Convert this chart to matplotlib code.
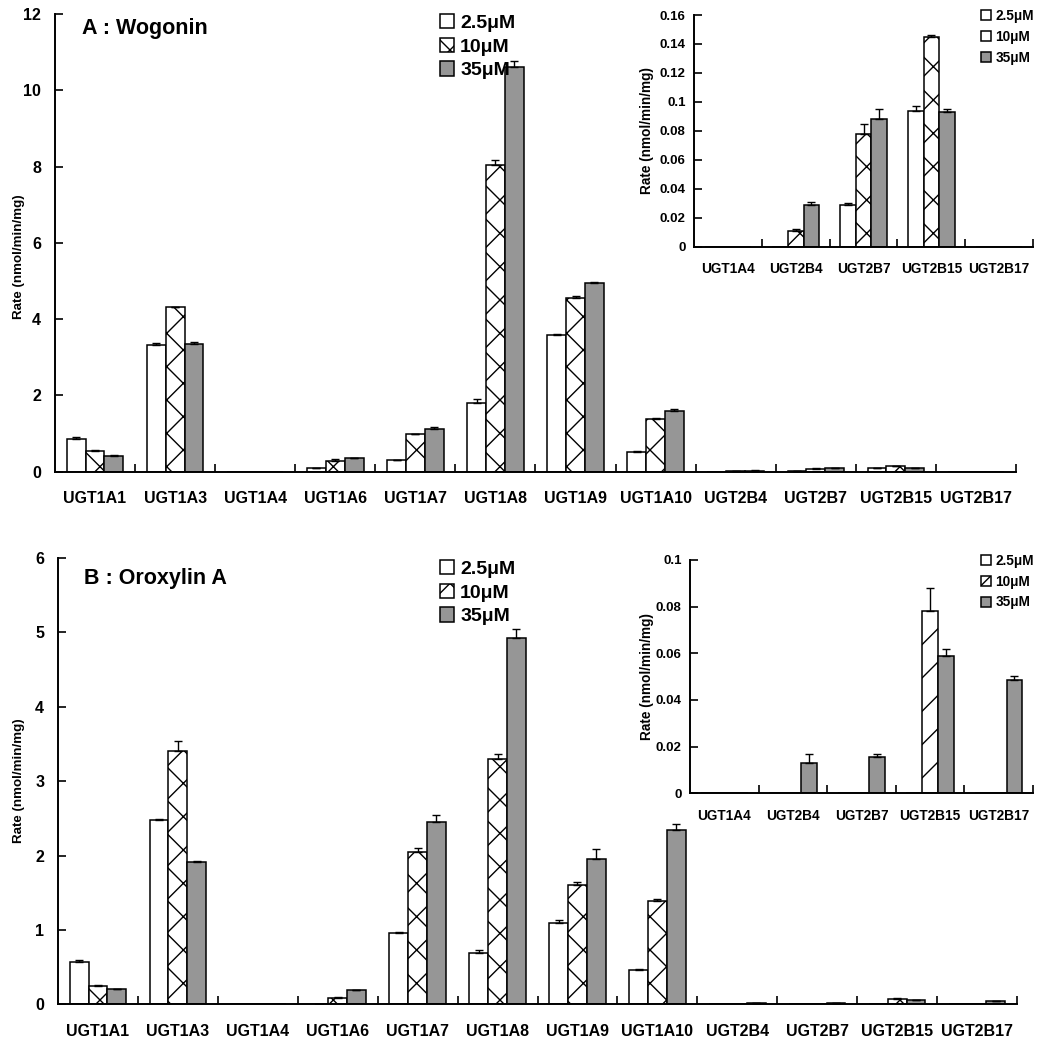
import numpy as np
import matplotlib.pyplot as plt
from matplotlib.ticker import FuncFormatter

plt.rcParams['font.family'] = ['Liberation Sans', 'DejaVu Sans']
plt.rcParams['font.weight'] = 'bold'
plt.rcParams['hatch.linewidth'] = 1.0

# UGT isoforms
categories = ['UGT1A1', 'UGT1A3', 'UGT1A4', 'UGT1A6', 'UGT1A7', 'UGT1A8',
              'UGT1A9', 'UGT1A10', 'UGT2B4', 'UGT2B7', 'UGT2B15', 'UGT2B17']
inset_idx = [2, 8, 9, 10, 11]  # UGT1A4 and UGT2B forms shown in the insets
conc_labels = ['2.5μM', '10μM', '35μM']

# A: Wogonin glucuronidation rate (nmol/min/mg)
wog_25 = [0.85, 3.31, 0, 0.09, 0.30, 1.79, 3.58, 0.52, 0, 0.029, 0.094, 0]
wog_10 = [0.55, 4.31, 0, 0.29, 0.98, 8.05, 4.55, 1.37, 0.011, 0.078, 0.145, 0]
wog_35 = [0.41, 3.35, 0, 0.35, 1.13, 10.62, 4.95, 1.58, 0.029, 0.088, 0.093, 0]
wog_25_err = [0.06, 0.06, 0, 0.01, 0.01, 0.12, 0.04, 0.01, 0, 0.001, 0.003, 0]
wog_10_err = [0.03, 0.02, 0, 0.03, 0.02, 0.13, 0.06, 0.04, 0.001, 0.007, 0.001, 0]
wog_35_err = [0.02, 0.04, 0, 0.01, 0.05, 0.15, 0.02, 0.07, 0.002, 0.007, 0.002, 0]

# B: Oroxylin A
oro_25 = [0.565, 2.48, 0, 0.01, 0.955, 0.69, 1.09, 0.46, 0, 0, 0, 0]
oro_10 = [0.25, 3.41, 0, 0.09, 2.05, 3.30, 1.61, 1.39, 0, 0, 0.078, 0]
oro_35 = [0.20, 1.91, 0, 0.19, 2.45, 4.93, 1.96, 2.35, 0.013, 0.0155, 0.059, 0.0485]
oro_25_err = [0.035, 0.01, 0, 0, 0.015, 0.04, 0.05, 0.01, 0, 0, 0, 0]
oro_10_err = [0.01, 0.13, 0, 0.01, 0.05, 0.07, 0.03, 0.03, 0, 0, 0.010, 0]
oro_35_err = [0.01, 0.01, 0, 0.005, 0.09, 0.11, 0.13, 0.08, 0.004, 0.0015, 0.003, 0.0018]

GRAY = '#969696'


def draw_bars(ax, series, errs, idx, hatch10, width=0.235):
    labels = [categories[i] for i in idx]
    x = np.arange(len(idx)) + 0.5
    styles = [dict(color='white', hatch=None),
              dict(color='white', hatch=hatch10),
              dict(color=GRAY, hatch=None)]
    for k, (vals, err, st) in enumerate(zip(series, errs, styles)):
        v = np.array([vals[i] for i in idx])
        e = np.array([err[i] for i in idx])
        xs = x + (k - 1) * width
        ax.bar(xs, v, width, color=st['color'], hatch=st['hatch'],
               edgecolor='black', linewidth=1.1, label=conc_labels[k], zorder=2)
        m = v > 0
        ax.errorbar(xs[m], v[m], yerr=[np.zeros(m.sum()), e[m]], fmt='none',
                    ecolor='black', elinewidth=1.0, capsize=3, capthick=1.0, zorder=3)
    ax.set_xlim(0, len(idx))
    ax.set_xticks(x)
    ax.set_xticklabels(labels)
    ax.set_xticks(np.arange(1, len(idx) + 1), minor=True)
    ax.tick_params(axis='x', which='major', length=0)
    ax.tick_params(axis='x', which='minor', direction='in', length=6, width=1.2)
    ax.tick_params(axis='y', direction='in', length=6, width=1.2)
    for s in ['top', 'right']:
        ax.spines[s].set_visible(False)
    for s in ['left', 'bottom']:
        ax.spines[s].set_linewidth(1.4)
    ax.yaxis.set_major_formatter(FuncFormatter(lambda v, p: '%g' % v))


fig = plt.figure(figsize=(10.41, 10.50), dpi=100)

all_idx = list(range(len(categories)))

# ---- Panel A main
axA = fig.add_axes([0.0528, 0.5508, 0.9232, 0.4358])
draw_bars(axA, [wog_25, wog_10, wog_35], [wog_25_err, wog_10_err, wog_35_err], all_idx, 'x')
axA.set_ylim(0, 12)
axA.set_yticks(range(0, 13, 2))
axA.tick_params(axis='x', labelsize=11.5, pad=14)
axA.tick_params(axis='y', labelsize=11.5, pad=10)
axA.set_ylabel('Rate (nmol/min/mg)', fontsize=9.6, fontweight='bold')
axA.yaxis.set_label_coords(-0.031, 0.47)
axA.legend(loc='upper left', bbox_to_anchor=(0.413, 0.996), bbox_transform=fig.transFigure,
           frameon=False, fontsize=14, handlelength=0.75, handleheight=0.75,
           handletextpad=0.3, labelspacing=0.3, borderpad=0)
fig.text(0.079, 0.973, 'A : Wogonin', fontsize=15.5, fontweight='bold', va='center')

# ---- Panel A inset
axAi = fig.add_axes([0.6667, 0.765, 0.3256, 0.2207])
draw_bars(axAi, [wog_25, wog_10, wog_35], [wog_25_err, wog_10_err, wog_35_err], inset_idx, 'x', width=0.23)
axAi.set_ylim(0, 0.16)
axAi.set_yticks(np.arange(0, 0.161, 0.02))
axAi.tick_params(axis='x', labelsize=9.8, pad=11)
axAi.tick_params(axis='y', labelsize=9.5, pad=6)
axAi.set_ylabel('Rate (nmol/min/mg)', fontsize=9.8, fontweight='bold')
axAi.yaxis.set_label_coords(-0.118, 0.5)
axAi.legend(loc='upper left', bbox_to_anchor=(0.936, 0.998), bbox_transform=fig.transFigure,
            frameon=False, fontsize=9.8, handlelength=0.75, handleheight=0.75,
            handletextpad=0.3, labelspacing=0.5, borderpad=0)

# ---- Panel B main
axB = fig.add_axes([0.0557, 0.0435, 0.9213, 0.4251])
draw_bars(axB, [oro_25, oro_10, oro_35], [oro_25_err, oro_10_err, oro_35_err], all_idx, 'x')
axB.set_ylim(0, 6)
axB.set_yticks(range(0, 7))
axB.tick_params(axis='x', labelsize=11.5, pad=14)
axB.tick_params(axis='y', labelsize=11.5, pad=10)
axB.set_ylabel('Rate (nmol/min/mg)', fontsize=9.6, fontweight='bold')
axB.yaxis.set_label_coords(-0.034, 0.5)
axB.legend(loc='upper left', bbox_to_anchor=(0.413, 0.476), bbox_transform=fig.transFigure,
           frameon=False, fontsize=14, handlelength=0.75, handleheight=0.75,
           handletextpad=0.3, labelspacing=0.3, borderpad=0)
fig.text(0.081, 0.449, 'B : Oroxylin A', fontsize=15.5, fontweight='bold', va='center')

# ---- Panel B inset
axBi = fig.add_axes([0.6628, 0.2445, 0.3295, 0.2222])
draw_bars(axBi, [oro_25, oro_10, oro_35], [oro_25_err, oro_10_err, oro_35_err], inset_idx, '/', width=0.23)
axBi.set_ylim(0, 0.1)
axBi.set_yticks(np.arange(0, 0.101, 0.02))
axBi.tick_params(axis='x', labelsize=9.8, pad=11)
axBi.tick_params(axis='y', labelsize=9.5, pad=6)
axBi.set_ylabel('Rate (nmol/min/mg)', fontsize=9.8, fontweight='bold')
axBi.yaxis.set_label_coords(-0.105, 0.5)
axBi.legend(loc='upper left', bbox_to_anchor=(0.936, 0.479), bbox_transform=fig.transFigure,
            frameon=False, fontsize=9.8, handlelength=0.75, handleheight=0.75,
            handletextpad=0.3, labelspacing=0.5, borderpad=0)

fig.savefig('out.png', dpi=100)
